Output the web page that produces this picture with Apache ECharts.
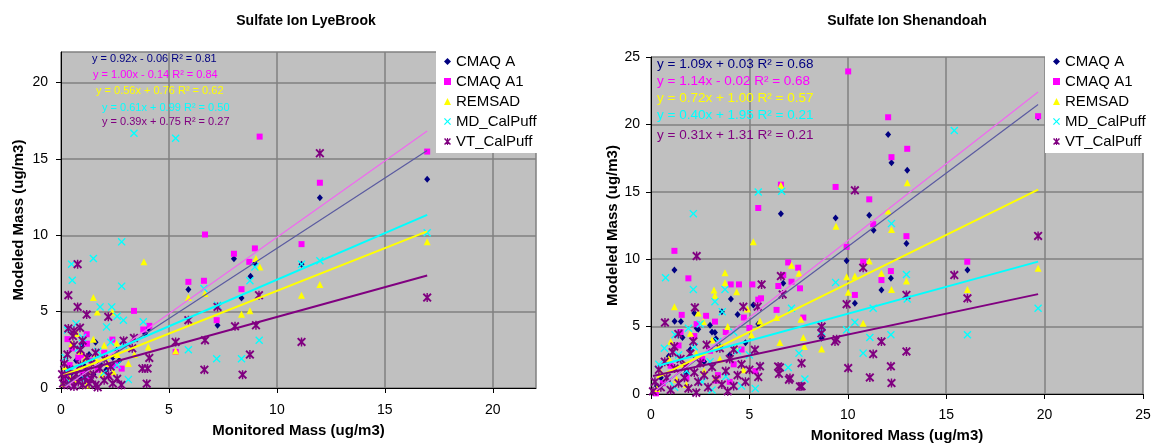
<!DOCTYPE html>
<html>
<head>
<meta charset="utf-8">
<script src="https://cdn.jsdelivr.net/npm/echarts@6/dist/echarts.min.js"></script>
<style>
    html, body { margin: 0; padding: 0; background: #fff; }
    #chart { width: 1163px; height: 444px; }
</style>
</head>
<body>
<div id="chart"></div>
<script>
    // series shared by both panels
    var seriesNames = ['CMAQ A', 'CMAQ A1', 'REMSAD', 'MD_CalPuff', 'VT_CalPuff'];

    // tick labels
    var lyeTicks = [0, 5, 10, 15, 20];
    var shenTicks = [0, 5, 10, 15, 20, 25];

    // trendline equations (slope, intercept, R2) as printed on the chart
    var lyeSlope = [0.92, 1.00, 0.56, 0.61, 0.39];
    var lyeIntercept = [-0.06, -0.14, 0.76, 0.99, 0.75];
    var lyeR2 = [0.81, 0.84, 0.62, 0.50, 0.27];
    var shenSlope = [1.09, 1.14, 0.72, 0.40, 0.31];
    var shenIntercept = [0.03, -0.02, 1.00, 1.95, 1.31];
    var shenR2 = [0.68, 0.68, 0.57, 0.21, 0.21];

    // LyeBrook: [monitored, modeled]
    var lyeCmaqA = [[16.96,13.66],[11.99,12.46],[8.98,8.15],[8.78,7.32],[8.01,8.46],[8.36,5.90],[7.25,4.11],[5.90,6.45],[11.14,8.11],[3.89,3.56],[4.05,3.9],[2.58,2.47],
        [0.3,0.5],[0.5,1.0],[0.7,1.8],[0.9,0.7],[1.1,1.4],[1.3,2.2],[1.5,0.9],[1.8,1.6],[2.1,1.2],[2.4,2.0],[0.2,1.3],[1.0,2.8],[2.7,1.8],[1.6,3.0],[0.6,0.2],[1.2,0.4]];
    var lyeCmaqA1 = [[16.96,15.48],[9.20,16.46],[11.99,13.44],[6.67,10.05],[11.14,9.42],[8.01,8.79],[8.98,9.14],[8.72,8.26],[5.90,6.95],[6.62,7.02],[8.36,6.47],[7.21,4.44],[5.31,2.36],[3.38,5.05],[4.09,4.07],[3.81,3.83],[2.38,3.17],[1.19,3.52],[2.81,1.27],
        [0.2,0.6],[0.4,1.5],[0.6,0.3],[0.8,2.0],[1.0,1.0],[1.2,2.9],[1.4,1.8],[1.7,1.2],[2.0,2.3],[2.2,0.8],[0.5,2.6],[0.3,3.2],[1.3,0.5],[2.5,1.5],[0.96,2.14]];
    var lyeRemsad = [[16.96,9.57],[11.99,6.78],[11.14,6.08],[9.21,7.93],[9.03,8.48],[8.75,5.05],[8.36,4.83],[6.67,6.19],[5.90,5.92],[5.31,2.43],[3.84,8.26],[1.50,5.92],[1.68,4.98],[2.38,4.98],[2.58,2.95],[3.12,1.60],[4.04,2.69],[3.4,2.2],
        [0.2,1.4],[0.4,0.7],[0.73,3.57],[0.9,2.4],[1.1,1.9],[1.3,1.2],[1.57,2.0],[1.9,0.9],[2.2,1.6],[2.42,1.06],[2.0,2.8],[0.5,2.9],[0.1,0.3],[1.5,3.2],[2.6,2.2],[0.7,0.5],[1.2,0.2]];
    var lyeMdCalpuff = [[3.38,16.68],[5.31,16.35],[2.81,9.57],[1.50,8.48],[0.49,8.11],[0.52,7.06],[2.81,6.67],[1.81,5.31],[2.35,5.31],[2.89,4.44],[2.11,4.00],[3.81,4.33],[6.62,6.51],[8.75,7.02],[8.98,7.93],[11.14,8.11],[11.99,8.33],[16.96,10.16],[7.25,5.42],[5.90,2.51],[7.21,1.92],[8.36,1.92],[9.18,3.13],[3.12,0.55],[2.6,4.7],
        [0.2,2.0],[0.5,1.2],[0.8,2.6],[1.0,3.3],[1.4,1.6],[1.7,2.4],[2.0,1.0],[2.3,3.0],[2.6,1.5],[0.3,3.8],[1.1,0.6],[0.7,4.2],[2.9,2.8],[0.4,0.4]];
    var lyeVtCalpuff = [[11.99,15.37],[16.96,5.92],[11.14,3.02],[9.17,6.08],[9.03,4.11],[8.06,4.04],[7.25,5.31],[5.90,4.44],[6.67,3.13],[5.31,3.02],[6.64,1.20],[8.75,2.19],[8.41,0.87],[4.09,1.97],[4.01,1.27],[3.77,1.27],[3.97,0.28],[3.38,3.28],[0.77,8.11],[0.34,6.08],[0.77,5.31],[1.19,4.81],[2.19,4.66],[0.34,3.9],[0.6,3.75],[0.88,3.95],[0.55,3.4],
        [0.1,0.3],[0.2,0.8],[0.3,0.2],[0.4,1.2],[0.5,0.5],[0.6,0.1],[0.7,0.9],[0.8,0.4],[0.9,1.5],[1.0,0.2],[1.1,0.7],[1.2,1.1],[1.3,0.3],[1.4,0.6],[1.5,0.9],[1.6,0.2],[1.8,1.3],[2.0,0.5],[2.2,0.8],[2.4,0.3],[2.6,0.6],[0.3,2.2],[0.6,2.8],[0.9,2.5],[1.2,2.0],[1.6,2.3],[2.0,1.9],[0.15,1.6],[1.0,3.1],[1.7,0.05],[2.8,0.2],[0.05,0.9],[1.4,1.6],[2.3,1.4],[2.9,3.1],[3.3,2.6]];

    // Shenandoah: [monitored, modeled]
    var shenCmaqA = [[19.67,20.53],[12.05,19.25],[12.22,17.16],[13.02,16.59],[9.38,13.06],[6.60,13.38],[11.09,13.26],[11.31,12.15],[12.98,11.17],[9.94,9.88],[16.08,9.19],[12.19,8.58],[11.71,7.71],[10.36,6.73],[1.19,9.19],[6.72,8.21],[4.06,7.05],[8.67,4.14],[5.45,5.2],
        [3.25,4.56],[1.52,5.37],[2.32,4.88],
        [0.5,1.2],[0.9,2.8],[1.2,5.4],[1.6,4.2],[2.0,3.3],[2.4,4.8],[2.7,2.4],[3.0,5.1],[3.3,4.1],[3.6,6.1],[4.0,2.9],[4.4,5.9],[4.8,3.8],[5.2,6.6],[3.1,4.6],[0.3,0.6],[1.8,1.6],[2.2,6.0]];
    var shenCmaqA1 = [[10.02,23.93],[19.67,20.61],[12.05,20.53],[12.22,17.57],[13.02,18.19],[6.60,15.53],[9.38,15.36],[11.09,14.44],[5.45,13.80],[11.29,12.60],[12.98,11.71],[9.94,10.92],[1.19,10.62],[16.07,9.81],[10.78,9.81],[6.97,9.76],[7.48,9.37],[12.19,9.12],[11.71,8.45],[1.90,8.58],[4.05,8.13],[4.47,8.13],[5.15,8.13],[6.72,8.82],[7.14,8.33],[6.47,8.01],[7.57,7.84],[10.36,7.35],[5.45,7.0],[5.59,7.1],[1.56,5.87],[4.72,5.67],[6.38,6.24],[7.74,5.67],[3.25,5.37],[2.32,5.18],[0.25,0.05],
        [0.6,0.8],[1.0,2.1],[1.4,3.6],[1.8,1.2],[2.2,4.3],[2.6,2.6],[3.0,3.2],[3.4,1.4],[3.8,4.6],[4.2,2.2],[4.6,3.3],[5.0,4.9],[5.3,1.7],[2.8,5.8],[1.5,4.6],[3.3,1.0],[4.0,0.9]];
    var shenRemsad = [[13.02,15.68],[6.60,15.48],[12.05,13.58],[9.40,12.45],[12.22,12.20],[5.20,11.29],[11.09,9.86],[19.67,9.32],[3.76,9.00],[11.71,8.95],[9.94,8.70],[10.36,8.75],[12.98,8.38],[7.14,9.56],[7.52,8.95],[3.76,8.26],[3.20,7.72],[4.35,7.59],[16.08,7.76],[12.22,7.76],[10.02,7.54],[1.19,6.48],[3.25,7.30],[2.66,5.37],[6.38,5.67],[7.62,5.55],[10.78,5.25],[5.54,5.42],[6.55,3.82],[7.74,4.19],[8.67,3.33],[7.79,3.52],[0.91,2.66],[1.47,2.71],
        [0.5,1.6],[1.0,3.9],[1.3,1.1],[1.7,2.2],[2.0,4.5],[2.3,3.0],[2.7,1.7],[3.1,4.0],[3.5,2.6],[3.9,5.0],[4.3,3.4],[4.7,1.8],[5.1,4.4],[2.4,6.0],[0.3,0.4],[1.8,0.7],[3.3,1.2],[4.9,6.3]];
    var shenMdCalpuff = [[15.41,19.55],[2.15,13.38],[5.45,14.99],[6.64,15.04],[12.22,12.64],[12.98,8.87],[19.67,6.36],[16.08,4.39],[0.74,8.63],[2.15,7.76],[3.76,7.76],[9.38,8.28],[3.25,6.85],[13.02,7.05],[11.29,6.36],[10.36,5.32],[9.94,4.76],[11.12,4.19],[12.19,4.39],[10.78,3.03],[7.52,3.03],[6.97,1.97],[7.82,1.11],[5.54,2.05],[7.14,6.36],[8.67,4.63],[1.90,4.88],[3.62,6.11],[0.68,3.40],[1.22,4.39],
        [0.4,2.2],[0.9,1.0],[1.4,2.9],[1.8,1.7],[2.2,3.5],[2.6,0.9],[3.0,2.4],[3.4,3.9],[3.8,1.3],[4.2,4.6],[4.6,0.6],[5.0,2.9],[5.3,0.4],[2.5,5.2],[4.4,3.2],[1.2,0.5],[3.1,0.3]];
    var shenVtCalpuff = [[10.36,15.11],[19.67,11.73],[2.32,10.23],[10.78,9.37],[15.41,8.82],[16.08,7.10],[12.98,7.35],[5.62,8.13],[6.60,8.75],[6.69,7.39],[4.69,6.48],[5.42,6.48],[2.23,6.41],[0.71,5.30],[8.67,5.00],[9.43,4.07],[9.94,6.66],[11.71,3.89],[12.98,3.16],[11.29,2.96],[11.12,1.23],[12.19,2.05],[12.22,0.81],[10.02,1.92],[7.65,2.29],[6.55,1.97],[7.01,1.06],[7.65,0.57],[5.45,1.26],[5.54,2.05],[8.66,4.5],[9.35,3.9],[6.46,2.04],[7.06,1.18],[7.57,0.56],[6.5,1.5],
        [0.2,0.9],[0.4,1.8],[0.5,0.5],[0.7,2.4],[0.8,1.2],[1.0,0.3],[1.1,3.1],[1.2,1.9],[1.39,4.46],[1.18,3.52],[1.4,0.8],[1.5,2.6],[1.73,2.04],[1.7,1.2],[1.9,0.4],[2.0,3.0],[2.15,3.9],[2.2,1.6],[2.4,0.9],[2.5,2.3],[2.7,1.4],[2.83,3.65],[2.9,0.5],[3.1,2.0],[3.3,1.1],[3.5,3.4],[3.6,0.7],[3.8,1.7],[4.0,2.6],[4.2,0.6],[4.4,1.4],[4.6,2.2],[4.8,0.9],[5.0,1.8],[5.28,3.28],[4.2,3.3],[0.1,0.2],[2.3,0.1],[3.9,0.2]];

    var lyeData = [lyeCmaqA, lyeCmaqA1, lyeRemsad, lyeMdCalpuff, lyeVtCalpuff];
    var shenData = [shenCmaqA, shenCmaqA1, shenRemsad, shenMdCalpuff, shenVtCalpuff];

    // styling
    var markColors = ['#000080', '#ff00ff', '#ffff00', '#00ffff', '#800080'];
    var trendColors = ['#5a5aa0', '#f068f0', '#ffff00', '#00ffff', '#800080'];
    var trendWidths = [1.2, 1.2, 2, 2, 2];
    var xMark = 'path://M0,1.2L1.2,0L5,3.8L8.8,0L10,1.2L6.2,5L10,8.8L8.8,10L5,6.2L1.2,10L0,8.8L3.8,5Z';
    var starMark = 'path://M0,1.5L1.5,0L5,3.5L8.5,0L10,1.5L6.5,5L10,8.5L8.5,10L5,6.5L1.5,10L0,8.5L3.5,5ZM4.2,0L5.8,0L5.8,10L4.2,10Z';
    var markSymbols = ['diamond', 'rect', 'triangle', xMark, starMark];
    var markSizes = [[6, 7], 6, 7, 8, 9];

    function eqText(m, b, r2) {
        return 'y = ' + m.toFixed(2) + 'x ' + (b < 0 ? '- ' : '+ ') + Math.abs(b).toFixed(2) + ' R\u00b2 = ' + r2.toFixed(2);
    }

    var series = [];
    function addPanel(data, slope, intercept, gi) {
        data.forEach(function (pts, i) {
            series.push({
                name: seriesNames[i], type: 'scatter', xAxisIndex: gi, yAxisIndex: gi,
                data: pts, symbol: markSymbols[i], symbolSize: markSizes[i],
                itemStyle: { color: markColors[i], opacity: 1 }
            });
        });
        data.forEach(function (pts, i) {
            var xs = pts.map(function (p) { return p[0]; });
            var x0 = Math.min.apply(null, xs), x1 = Math.max.apply(null, xs);
            series.push({
                name: 'trend ' + seriesNames[i], type: 'line', xAxisIndex: gi, yAxisIndex: gi,
                data: [[x0, slope[i] * x0 + intercept[i]], [x1, slope[i] * x1 + intercept[i]]],
                showSymbol: false, silent: true, z: 5,
                lineStyle: { color: trendColors[i], width: trendWidths[i] }
            });
        });
    }
    addPanel(lyeData, lyeSlope, lyeIntercept, 0);
    addPanel(shenData, shenSlope, shenIntercept, 1);

    function valueAxis(gi, max, ticks, name, gap, labelMargin) {
        return {
            type: 'value', gridIndex: gi, min: 0, max: max, interval: 5,
            name: name, nameLocation: 'middle', nameGap: gap,
            nameTextStyle: { fontFamily: 'Arial', fontWeight: 'bold', fontSize: 15, color: '#000' },
            axisLine: { onZero: false, lineStyle: { color: '#000', width: 1 } },
            axisTick: { show: true, length: 5, lineStyle: { color: '#000' } },
            axisLabel: {
                color: '#000', fontFamily: 'Arial', fontSize: 14, margin: labelMargin, showMaxLabel: ticks.indexOf(max) >= 0,
                formatter: function (v) { return ticks.indexOf(v) >= 0 ? String(v) : ''; }
            },
            splitLine: { show: true, lineStyle: { color: '#808080', width: 1.5 } }
        };
    }

    var graphics = [];
    var lyeEqX = [92, 93, 96, 102, 102], lyeEqY = [59, 75, 91, 108, 122];
    var shenEqY = [64, 81, 98, 115, 135];
    seriesNames.forEach(function (n, i) {
        graphics.push({ type: 'text', x: lyeEqX[i], y: lyeEqY[i], z: 100,
            style: { text: eqText(lyeSlope[i], lyeIntercept[i], lyeR2[i]), fill: markColors[i], font: '11px Arial', verticalAlign: 'middle' } });
        graphics.push({ type: 'text', x: 657, y: shenEqY[i], z: 100,
            style: { text: eqText(shenSlope[i], shenIntercept[i], shenR2[i]), fill: markColors[i], font: '13.5px Arial', verticalAlign: 'middle' } });
    });

    function legendAt(left, padRight) {
        return {
            data: seriesNames, orient: 'vertical', left: left, top: 50,
            backgroundColor: '#fff', padding: [4, padRight, 4, 8], itemGap: 5,
            itemWidth: 7, itemHeight: 7, selectedMode: false,
            textStyle: { fontFamily: 'Arial', fontSize: 15, color: '#000', lineHeight: 14 }
        };
    }

    var chart = echarts.init(document.getElementById('chart'));
    chart.setOption({
        animation: false,
        backgroundColor: '#fff',
        title: [
            { text: 'Sulfate Ion LyeBrook', left: 301, top: 9, textAlign: 'center',
              textStyle: { fontFamily: 'Arial', fontWeight: 'bold', fontSize: 14, color: '#000' } },
            { text: 'Sulfate Ion Shenandoah', left: 902, top: 9, textAlign: 'center',
              textStyle: { fontFamily: 'Arial', fontWeight: 'bold', fontSize: 14, color: '#000' } }
        ],
        legend: [legendAt(436, 18), legendAt(1045, 12)],
        grid: [
            { left: 61, top: 52, width: 475, height: 336, show: true, backgroundColor: '#c0c0c0', borderWidth: 0, outerBoundsMode: 'none' },
            { left: 651, top: 57, width: 492, height: 337, show: true, backgroundColor: '#c0c0c0', borderWidth: 0, outerBoundsMode: 'none' }
        ],
        xAxis: [
            valueAxis(0, 22, lyeTicks, 'Monitored Mass (ug/m3)', 35, 15),
            valueAxis(1, 25, shenTicks, 'Monitored Mass (ug/m3)', 34, 14)
        ],
        yAxis: [
            valueAxis(0, 22, lyeTicks, 'Modeled Mass (ug/m3)', 35, 13),
            valueAxis(1, 25, shenTicks, 'Modeled Mass (ug/m3)', 27, 11)
        ],
        graphic: graphics,
        series: series
    });
</script>
</body>
</html>
